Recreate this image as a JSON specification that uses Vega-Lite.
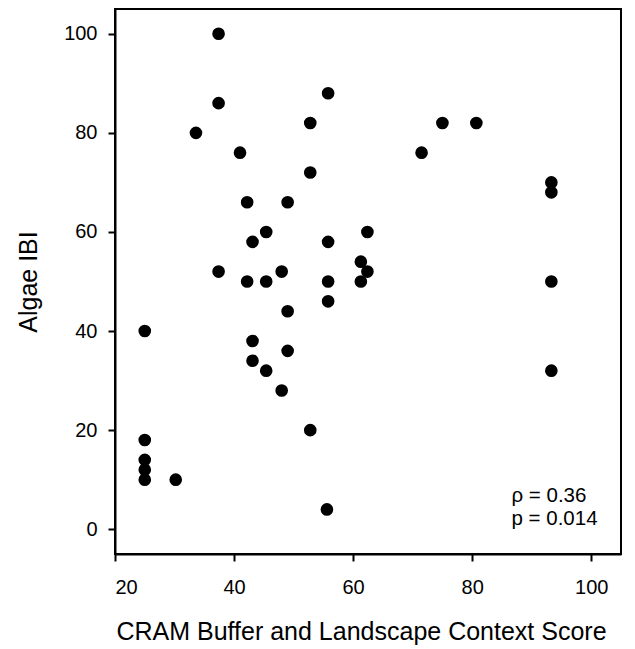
{
  "$schema": "https://vega.github.io/schema/vega-lite/v6.json",
  "width": 506,
  "height": 545,
  "autosize": {"type": "none"},
  "padding": {"left": 115, "top": 9, "right": 14, "bottom": 95},
  "background": "white",
  "config": {
    "view": {"stroke": "black", "strokeWidth": 2},
    "font": "Liberation Sans",
    "axis": {
      "grid": false,
      "domainColor": "black",
      "domainWidth": 2,
      "tickColor": "black",
      "tickWidth": 2,
      "tickSize": 7,
      "labelColor": "black",
      "labelFont": "Liberation Sans",
      "labelFontSize": 20,
      "titleColor": "black",
      "titleFont": "Liberation Sans",
      "titleFontSize": 25,
      "titleFontWeight": "normal"
    }
  },
  "layer": [
    {
      "data": {"values": [
        {"cram": 25, "ibi": 40}, {"cram": 25, "ibi": 18}, {"cram": 25, "ibi": 14}, {"cram": 25, "ibi": 12}, {"cram": 25, "ibi": 10},
        {"cram": 30.2, "ibi": 10}, {"cram": 33.6, "ibi": 80}, {"cram": 37.4, "ibi": 100}, {"cram": 37.4, "ibi": 86}, {"cram": 37.4, "ibi": 52},
        {"cram": 41, "ibi": 76}, {"cram": 42.2, "ibi": 66}, {"cram": 42.2, "ibi": 50}, {"cram": 43.1, "ibi": 58}, {"cram": 43.1, "ibi": 38},
        {"cram": 43.1, "ibi": 34}, {"cram": 45.4, "ibi": 60}, {"cram": 45.4, "ibi": 50}, {"cram": 45.4, "ibi": 32}, {"cram": 48, "ibi": 52},
        {"cram": 48, "ibi": 28}, {"cram": 49, "ibi": 66}, {"cram": 49, "ibi": 44}, {"cram": 49, "ibi": 36}, {"cram": 52.8, "ibi": 82},
        {"cram": 52.8, "ibi": 72}, {"cram": 52.8, "ibi": 20}, {"cram": 55.8, "ibi": 88}, {"cram": 55.8, "ibi": 58}, {"cram": 55.8, "ibi": 50},
        {"cram": 55.8, "ibi": 46}, {"cram": 55.6, "ibi": 4}, {"cram": 61.3, "ibi": 54}, {"cram": 61.3, "ibi": 50}, {"cram": 62.4, "ibi": 60},
        {"cram": 62.4, "ibi": 52}, {"cram": 71.5, "ibi": 76}, {"cram": 75, "ibi": 82}, {"cram": 80.7, "ibi": 82}, {"cram": 93.3, "ibi": 70},
        {"cram": 93.3, "ibi": 68}, {"cram": 93.3, "ibi": 50}, {"cram": 93.3, "ibi": 32}
      ]},
      "mark": {"type": "circle", "size": 160, "color": "black", "opacity": 1},
      "encoding": {
        "x": {"field": "cram", "type": "quantitative", "title": "CRAM Buffer and Landscape Context Score",
              "scale": {"domain": [20, 105], "nice": false, "zero": false},
              "axis": {"values": [20, 40, 60, 80, 100], "labelPadding": 16, "titlePadding": 22, "titleX": 246, "titleAlign": "center"}},
        "y": {"field": "ibi", "type": "quantitative", "title": "Algae IBI",
              "scale": {"domain": [-5, 105], "nice": false, "zero": false},
              "axis": {"values": [0, 20, 40, 60, 80, 100], "labelPadding": 11, "titlePadding": 22}}
      }
    },
    {
      "data": {"values": [
        {"cram": 86.6, "ibi": 5.5, "label": "ρ = 0.36"},
        {"cram": 86.6, "ibi": 0.95, "label": "p = 0.014"}
      ]},
      "mark": {"type": "text", "align": "left", "baseline": "alphabetic", "fontSize": 20.5, "font": "Liberation Sans", "color": "black"},
      "encoding": {
        "x": {"field": "cram", "type": "quantitative"},
        "y": {"field": "ibi", "type": "quantitative"},
        "text": {"field": "label"}
      }
    }
  ]
}
